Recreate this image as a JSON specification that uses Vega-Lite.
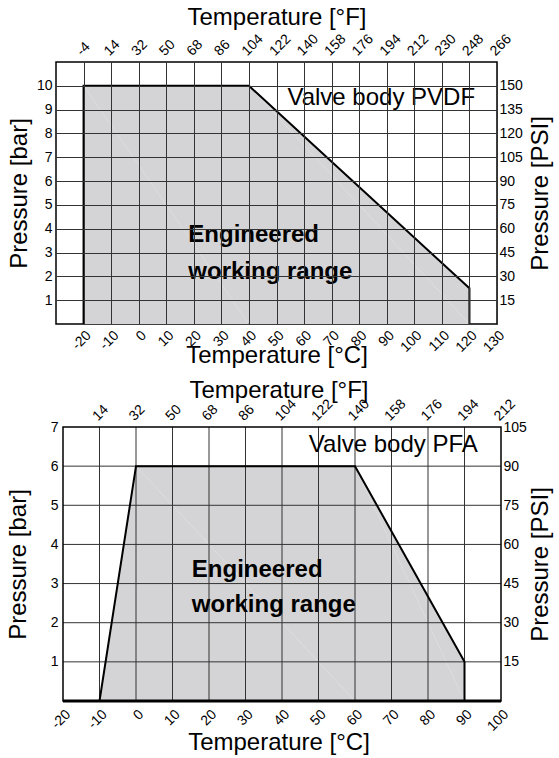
{
  "$schema": "https://vega.github.io/schema/vega-lite/v6.json",
  "background": "white",
  "padding": {"left": 6, "top": 4, "right": 2, "bottom": 2},
  "spacing": 9,
  "config": {
    "font": "Liberation Sans",
    "view": {"stroke": "black", "strokeWidth": 1.5},
    "axis": {
      "ticks": false,
      "domain": false,
      "grid": false,
      "labelFont": "Liberation Sans",
      "labelFontSize": 14,
      "labelColor": "black",
      "titleFont": "Liberation Sans",
      "titleFontSize": 24,
      "titleFontWeight": "normal",
      "titleColor": "black"
    }
  },
  "vconcat": [
    {
      "width": 441,
      "height": 262,
      "data": {"values": [
        {"i": 1, "t": -20, "p": 0},
        {"i": 2, "t": -20, "p": 10},
        {"i": 3, "t": 40, "p": 10},
        {"i": 4, "t": 120, "p": 1.5},
        {"i": 5, "t": 120, "p": 0}
      ]},
      "resolve": {"axis": {"x": "independent", "y": "independent"}},
      "layer": [
        {
          "mark": {"type": "area", "color": "#d4d4d6", "opacity": 1},
          "encoding": {
            "x": {"field": "t", "type": "quantitative", "scale": {"domain": [-30, 130], "nice": false, "zero": false},
              "axis": {"orient": "bottom", "title": "Temperature [°C]", "values": [-20, -10, 0, 10, 20, 30, 40, 50, 60, 70, 80, 90, 100, 110, 120, 130],
                "labelExpr": "'' + datum.value",
                "grid": true, "gridColor": "#333", "gridWidth": 1, "zindex": 1, "labelAngle": -45, "labelPadding": 4, "titlePadding": -11}},
            "y": {"field": "p", "type": "quantitative", "scale": {"domain": [0, 11], "nice": false},
              "axis": {"orient": "left", "title": "Pressure [bar]", "values": [1, 2, 3, 4, 5, 6, 7, 8, 9, 10],
                "grid": true, "gridColor": "#333", "gridWidth": 1, "zindex": 1, "labelPadding": 4, "titlePadding": 5}},
            "order": {"field": "i", "type": "quantitative"}
          }
        },
        {
          "mark": {"type": "line", "color": "black", "strokeWidth": 2},
          "encoding": {
            "x": {"field": "t", "type": "quantitative",
              "axis": {"orient": "top", "title": "Temperature [°F]", "values": [-20, -10, 0, 10, 20, 30, 40, 50, 60, 70, 80, 90, 100, 110, 120, 130],
                "labelExpr": "'' + round(datum.value * 1.8 + 32)", "labelAngle": -45, "labelPadding": 4, "titlePadding": 2}},
            "y": {"field": "p", "type": "quantitative",
              "axis": {"orient": "right", "title": "Pressure [PSI]", "values": [1, 2, 3, 4, 5, 6, 7, 8, 9, 10],
                "labelExpr": "'' + round(datum.value * 15)", "labelPadding": 2, "titlePadding": 6, "titleAngle": -90, "titleBaseline": "top"}},
            "order": {"field": "i", "type": "quantitative"}
          }
        },
        {
          "data": {"values": [{"t": 88, "p": 9.5, "label": "Valve body PVDF"}]},
          "mark": {"type": "text", "fontSize": 24, "font": "Liberation Sans", "color": "black", "align": "center", "baseline": "middle"},
          "encoding": {
            "x": {"field": "t", "type": "quantitative", "axis": null},
            "y": {"field": "p", "type": "quantitative", "axis": null},
            "text": {"field": "label"}
          }
        },
        {
          "data": {"values": [{"t": 18, "p": 3.75, "label": "Engineered"}, {"t": 18, "p": 2.18, "label": "working range"}]},
          "mark": {"type": "text", "fontSize": 24, "fontWeight": "bold", "font": "Liberation Sans", "color": "black", "align": "left", "baseline": "middle"},
          "encoding": {
            "x": {"field": "t", "type": "quantitative", "axis": null},
            "y": {"field": "p", "type": "quantitative", "axis": null},
            "text": {"field": "label"}
          }
        }
      ]
    },
    {
      "width": 445,
      "height": 274,
      "view": {"stroke": null},
      "data": {"values": [
        {"i": 1, "t": -10, "p": 0},
        {"i": 2, "t": 0, "p": 6},
        {"i": 3, "t": 60, "p": 6},
        {"i": 4, "t": 90, "p": 1},
        {"i": 5, "t": 90, "p": 0}
      ]},
      "resolve": {"axis": {"x": "independent", "y": "independent"}},
      "layer": [
        {
          "mark": {"type": "area", "color": "#d4d4d6", "opacity": 1},
          "encoding": {
            "x": {"field": "t", "type": "quantitative", "scale": {"domain": [-21.918, 100], "nice": false, "zero": false},
              "axis": {"orient": "bottom", "title": "Temperature [°C]", "values": [-20, -10, 0, 10, 20, 30, 40, 50, 60, 70, 80, 90, 100],
                "labelExpr": "'' + datum.value", "labelAngle": -45, "labelPadding": 6, "titlePadding": -3}},
            "y": {"field": "p", "type": "quantitative", "scale": {"domain": [0, 7], "nice": false},
              "axis": {"orient": "left", "title": "Pressure [bar]", "values": [1, 2, 3, 4, 5, 6, 7],
                "offset": -7, "labelPadding": 5, "titlePadding": 20}},
            "order": {"field": "i", "type": "quantitative"}
          }
        },
        {
          "data": {"values": [{"v": -10}, {"v": 0}, {"v": 10}, {"v": 20}, {"v": 30}, {"v": 40}, {"v": 50}, {"v": 60}, {"v": 70}, {"v": 80}, {"v": 90}]},
          "mark": {"type": "rule", "color": "#333", "strokeWidth": 1},
          "encoding": {
            "x": {"field": "v", "type": "quantitative", "axis": null}
          }
        },
        {
          "data": {"values": [{"v": 1}, {"v": 2}, {"v": 3}, {"v": 4}, {"v": 5}, {"v": 6}]},
          "mark": {"type": "rule", "color": "#333", "strokeWidth": 1},
          "encoding": {
            "y": {"field": "v", "type": "quantitative", "axis": null},
            "x": {"datum": -20, "type": "quantitative", "axis": null},
            "x2": {"datum": 100}
          }
        },
        {
          "mark": {"type": "line", "color": "black", "strokeWidth": 2},
          "encoding": {
            "x": {"field": "t", "type": "quantitative",
              "axis": {"orient": "top", "title": "Temperature [°F]", "values": [-10, 0, 10, 20, 30, 40, 50, 60, 70, 80, 90, 100],
                "labelExpr": "'' + round(datum.value * 1.8 + 32)", "labelAngle": -45, "labelPadding": 4, "titlePadding": -6}},
            "y": {"field": "p", "type": "quantitative",
              "axis": {"orient": "right", "title": "Pressure [PSI]", "values": [1, 2, 3, 4, 5, 6, 7],
                "labelExpr": "'' + round(datum.value * 15)", "labelPadding": 2, "titlePadding": 2, "titleAngle": -90, "titleBaseline": "top"}},
            "order": {"field": "i", "type": "quantitative"}
          }
        },
        {
          "data": {"values": [{}]},
          "mark": {"type": "rect", "fill": null, "fillOpacity": 0, "stroke": "black", "strokeWidth": 1.5},
          "encoding": {
            "x": {"datum": -20, "type": "quantitative", "axis": null},
            "x2": {"datum": 100},
            "y": {"datum": 0, "type": "quantitative", "axis": null},
            "y2": {"datum": 7}
          }
        },
        {
          "data": {"values": [{}]},
          "mark": {"type": "rule", "color": "black", "strokeWidth": 3},
          "encoding": {
            "x": {"datum": -20, "type": "quantitative", "axis": null},
            "x2": {"datum": 100},
            "y": {"datum": 0, "type": "quantitative", "axis": null}
          }
        },
        {
          "data": {"values": [{"t": 70.5, "p": 6.53, "label": "Valve body PFA"}]},
          "mark": {"type": "text", "fontSize": 24, "font": "Liberation Sans", "color": "black", "align": "center", "baseline": "middle"},
          "encoding": {
            "x": {"field": "t", "type": "quantitative", "axis": null},
            "y": {"field": "p", "type": "quantitative", "axis": null},
            "text": {"field": "label"}
          }
        },
        {
          "data": {"values": [{"t": 15.3, "p": 3.34, "label": "Engineered"}, {"t": 15.3, "p": 2.44, "label": "working range"}]},
          "mark": {"type": "text", "fontSize": 24, "fontWeight": "bold", "font": "Liberation Sans", "color": "black", "align": "left", "baseline": "middle"},
          "encoding": {
            "x": {"field": "t", "type": "quantitative", "axis": null},
            "y": {"field": "p", "type": "quantitative", "axis": null},
            "text": {"field": "label"}
          }
        }
      ]
    }
  ]
}
